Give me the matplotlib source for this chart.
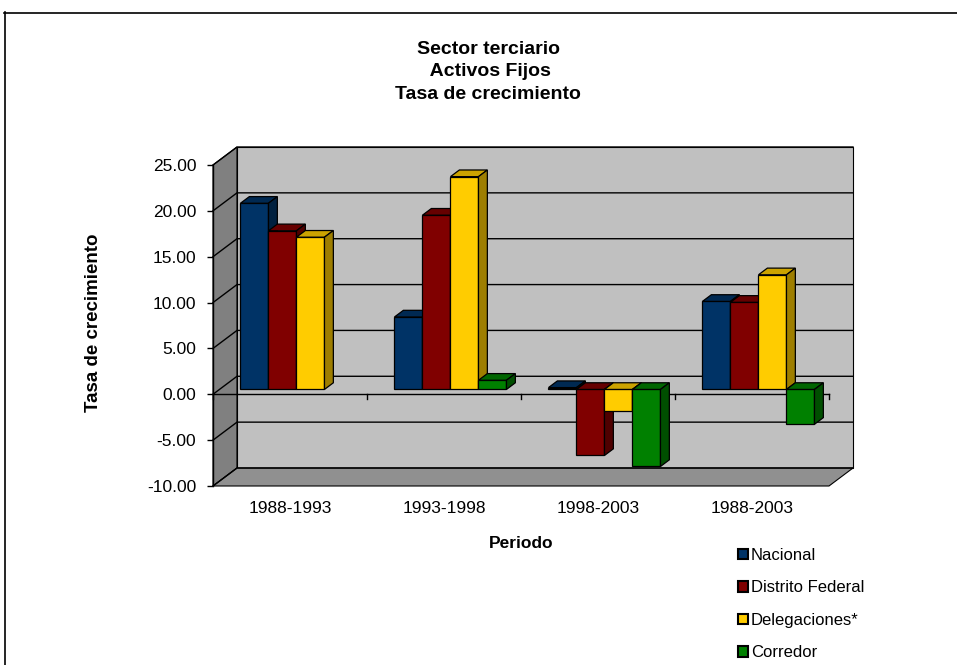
import numpy as np
import matplotlib
matplotlib.use("Agg")
import matplotlib.pyplot as plt
from matplotlib.patches import Polygon, Patch
from matplotlib.lines import Line2D

plt.rcParams['font.family'] = ['Liberation Sans', 'DejaVu Sans']

# datos
periodos = ["1988-1993", "1993-1998", "1998-2003", "1988-2003"]
series = ["Nacional", "Distrito Federal", "Delegaciones*", "Corredor"]
nacional = [20.3, 7.9, 0.2, 9.6]
distrito = [17.3, 19.0, -7.2, 9.5]
delegaciones = [16.6, 23.2, -2.3, 12.5]
corredor = [0.0, 1.0, -8.4, -3.8]
valores = [nacional, distrito, delegaciones, corredor]

colores = ["#003366", "#800000", "#FFCC00", "#008000"]
yticks = np.arange(-10, 26, 5)

W, H = 957, 665
fig = plt.figure(figsize=(W / 100, H / 100), dpi=100)

def fx(px):
    return px / W

def fy(py):
    return 1 - py / H

# plano frontal del grafico
x0p, x1p, y0p, y1p = 213, 829, 165, 486
ax = fig.add_axes([fx(x0p), fy(y1p), fx(x1p) - fx(x0p), fy(y0p) - fy(y1p)])
ax.set_xlim(0, 4)
ax.set_ylim(-10, 25)
ax.patch.set_visible(False)
for s in ["top", "right", "bottom"]:
    ax.spines[s].set_visible(False)
ax.spines["left"].set_linewidth(1.0)

# profundidad (oblicua)
dx = 24 / 154.0
dy = 18 / (321 / 35.0)

# paredes y piso
pared_izq = Polygon([(0, -10), (dx, -10 + dy), (dx, 25 + dy), (0, 25)],
                    closed=True, fc="#808080", ec="black", lw=0.8, clip_on=False, zorder=1)
fondo = Polygon([(dx, -10 + dy), (4 + dx, -10 + dy), (4 + dx, 25 + dy), (dx, 25 + dy)],
                closed=True, fc="#C0C0C0", ec="black", lw=0.8, clip_on=False, zorder=1)
piso = Polygon([(0, -10), (4, -10), (4 + dx, -10 + dy), (dx, -10 + dy)],
               closed=True, fc="#909090", ec="black", lw=0.8, clip_on=False, zorder=1)
for p in (pared_izq, fondo, piso):
    ax.add_patch(p)

# lineas de division
for v in yticks:
    ax.plot([0, dx, 4 + dx], [v, v + dy, v + dy], color="black", lw=1.0,
            clip_on=False, zorder=2)

# eje x en cero
ax.plot([0, 4], [0, 0], color="black", lw=1.0, clip_on=False, zorder=2)
for i in range(5):
    ax.plot([i, i], [0, -0.55], color="black", lw=1.0, clip_on=False, zorder=2)

def oscurecer(c, f):
    r, g, b = matplotlib.colors.to_rgb(c)
    return (r * f, g * f, b * f)

def barra3d(x, w, v, color):
    f0, f1 = 0.27, 0.64
    ox, oy = f0 * dx, f0 * dy
    bx, by = (f1 - f0) * dx, (f1 - f0) * dy
    arriba = max(v, 0) + oy
    abajo = min(v, 0) + oy
    xa, xb = x + ox, x + w + ox
    frente = Polygon([(xa, abajo), (xb, abajo), (xb, arriba), (xa, arriba)],
                     fc=color, ec="black", lw=0.9, clip_on=False, zorder=3)
    tapa = Polygon([(xa, arriba), (xb, arriba), (xb + bx, arriba + by), (xa + bx, arriba + by)],
                   fc=oscurecer(color, 0.8), ec="black", lw=0.9, clip_on=False, zorder=3)
    lado = Polygon([(xb, abajo), (xb, arriba), (xb + bx, arriba + by), (xb + bx, abajo + by)],
                   fc=oscurecer(color, 0.62), ec="black", lw=0.9, clip_on=False, zorder=3)
    for p in (frente, tapa, lado):
        ax.add_patch(p)

ancho = 28 / 154.0
hueco = (1 - 4 * ancho) / 2
for i in range(len(periodos)):
    for j, vals in enumerate(valores):
        if i == 0 and j == 3:
            continue
        barra3d(i + hueco + j * ancho, ancho, vals[i], colores[j])

# ejes y etiquetas
ax.set_yticks(yticks)
ax.set_yticklabels(["%.2f" % v for v in yticks], fontsize=12.5)
ax.tick_params(axis="y", direction="out", length=4, width=1.0, pad=8)
ax.set_xticks(np.arange(4) + 0.5)
ax.set_xticklabels(periodos, fontsize=12.5)
ax.tick_params(axis="x", length=0, pad=11)

fig.text(fx(94), fy(323), "Tasa de crecimiento", rotation=90, ha="center", va="center",
         fontsize=13.5, fontweight="bold")
fig.text(fx(521), fy(543), "Periodo", ha="center", va="center", fontsize=12.5, fontweight="bold")
fig.text(fx(488), fy(72), "Sector terciario\n Activos Fijos\nTasa de crecimiento",
         ha="center", va="center", fontsize=14, fontweight="bold", linespacing=1.4)

# leyenda
manijas = [Patch(fc=c, ec="black", lw=1.5) for c in colores]
fig.legend(manijas, series, loc="upper left", bbox_to_anchor=(fx(731), fy(541)),
           frameon=False, fontsize=12, handlelength=0.6, handleheight=0.6,
           handletextpad=0.2, labelspacing=1.05, borderaxespad=0)

# marco exterior
fig.add_artist(Line2D([fx(4.5), fx(4.5)], [fy(12), 0], color="black", lw=1.2))
fig.add_artist(Line2D([fx(4), 1], [fy(12.5), fy(12.5)], color="black", lw=1.2))

fig.savefig("out.png", dpi=100, facecolor="white")
